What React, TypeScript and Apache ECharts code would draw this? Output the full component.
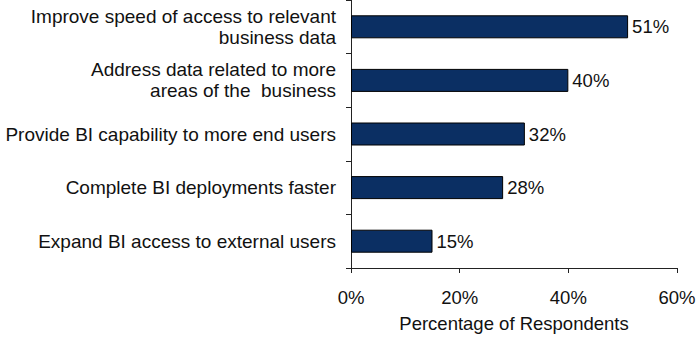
import React, { useEffect, useRef } from "react";
import * as echarts from "echarts";

const categories = [
  "Improve speed of access to relevant\nbusiness data",
  "Address data related to more\nareas of the  business",
  "Provide BI capability to more end users",
  "Complete BI deployments faster",
  "Expand BI access to external users",
];
const values = [51, 40, 32, 28, 15];
const xTicks = [0, 20, 40, 60];

export default function App() {
  const ref = useRef<HTMLDivElement>(null);
  useEffect(() => {
    if (!ref.current) return;
    const chart = echarts.init(ref.current, undefined, { renderer: "svg" });
    const font = "'Liberation Sans', Arial, sans-serif";
    chart.setOption({
      animation: false,
      backgroundColor: "#ffffff",
      grid: { left: 351, right: 23, top: 0, bottom: 72, containLabel: false },
      xAxis: {
        type: "value",
        min: xTicks[0],
        max: xTicks[xTicks.length - 1],
        interval: 20,
        name: "Percentage of Respondents",
        nameLocation: "middle",
        nameGap: 46,
        nameTextStyle: { fontFamily: font, fontSize: 18.5, color: "#111" },
        axisLine: { show: true, lineStyle: { color: "#222", width: 1 } },
        axisTick: { show: true, length: 5, lineStyle: { color: "#222" } },
        splitLine: { show: false },
        axisLabel: {
          formatter: "{value}%",
          fontFamily: font,
          fontSize: 18.5,
          color: "#111",
          margin: 20,
        },
      },
      yAxis: {
        type: "category",
        data: categories,
        inverse: true,
        axisLine: { show: true, lineStyle: { color: "#222", width: 1 } },
        axisTick: { show: true, length: 5, alignWithLabel: false, lineStyle: { color: "#222" } },
        axisLabel: {
          fontFamily: font,
          fontSize: 19,
          lineHeight: 21,
          color: "#111",
          margin: 15,
          align: "right",
        },
      },
      series: [
        {
          type: "bar",
          data: values,
          barWidth: 23,
          itemStyle: { color: "#0b2f63", borderColor: "#000", borderWidth: 1 },
          label: {
            show: true,
            position: "right",
            distance: 4,
            formatter: "{c}%",
            fontFamily: font,
            fontSize: 18.5,
            color: "#111",
          },
        },
      ],
    });
    return () => chart.dispose();
  }, []);
  return (
    <div
      ref={ref}
      style={{ position: "absolute", left: 0, top: 0, width: 700, height: 340 }}
    />
  );
}
